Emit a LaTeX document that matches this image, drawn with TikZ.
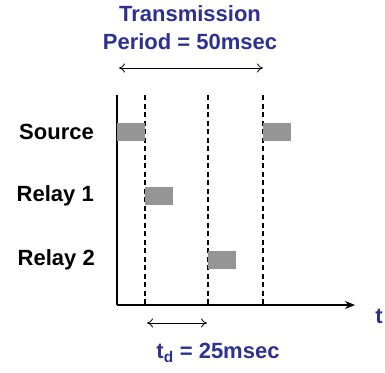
\documentclass[tikz,border=0pt]{standalone}
\usepackage{fontspec}
\setmainfont{Liberation Sans}
\usetikzlibrary{arrows.meta}
\definecolor{navy}{HTML}{2E3192}
\definecolor{bargray}{HTML}{959595}
\begin{document}
\begin{tikzpicture}[x=1pt,y=-1pt,
  lbl/.style={font=\fontsize{22}{28}\selectfont\bfseries, text=black, inner sep=0pt},
  bluelbl/.style={font=\fontsize{22}{28}\selectfont\bfseries, text=navy, inner sep=0pt, align=center},
  bar/.style={fill=bargray, draw=none, minimum width=27.5pt, minimum height=18pt, inner sep=0pt, anchor=west},
  dashln/.style={line width=1.2pt, dash pattern=on 5pt off 3.5pt},
  dbl/.style={line width=0.8pt, {To[length=6pt,width=9pt]}-{To[length=6pt,width=9pt]}},
  axis/.style={line width=1.3pt}]
\useasboundingbox (0,0) rectangle (385,372);
% axes
\coordinate (o) at (117,305);
\coordinate (ytop) at (117,95);
\coordinate (xend) at (355,305);
\draw[axis] (ytop) -- (o);
\draw[axis, -{Stealth[length=10pt,width=8pt]}] (o) -- (xend);
% dashed lines
\foreach \n/\x in {d1/145, d2/208, d3/263} {
  \coordinate (\n t) at (\x,95);
  \coordinate (\n b) at (\x,305);
  \draw[dashln] (\n t) -- (\n b);
}
% bars
\node[bar] (s1) at (117,132) {};
\node[bar] (s2) at (263,132) {};
\node[bar] (r1) at (145,196) {};
\node[bar] (r2) at (208,260) {};
% labels
\node[lbl, anchor=east] (src) at (94,132) {Source};
\node[lbl, anchor=east] (rl1) at (94,196) {Relay 1};
\node[lbl, anchor=east] (rl2) at (95,260) {Relay 2};
\node[lbl, text=navy] (t) at (379,316) {t};
% top title
\node[bluelbl] (title) at (190,28) {Transmission\\Period = 50msec};
\coordinate (pa) at (119,68);
\coordinate (pb) at (263,68);
\draw[dbl] (pa) -- (pb);
% bottom
\coordinate (qa) at (147,323);
\coordinate (qb) at (207,323);
\draw[dbl] (qa) -- (qb);
\node[bluelbl] (td) at (218,353) {t\textsubscript{d} = 25msec};
\end{tikzpicture}
\end{document}
